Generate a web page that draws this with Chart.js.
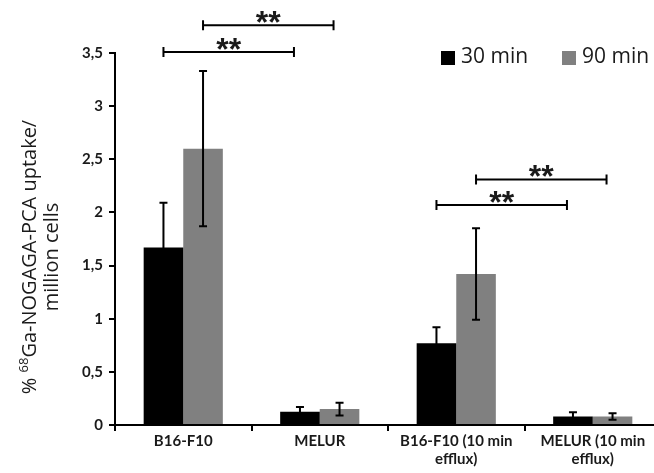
<!DOCTYPE html>
<html>
<head>
<meta charset="utf-8">
<script src="https://cdn.jsdelivr.net/npm/chart.js@4.4.1/dist/chart.umd.min.js"></script>
<style>
  html, body { margin: 0; padding: 0; background: #fff; overflow: hidden; }
</style>
</head>
<body>
<canvas id="uptake" width="670" height="473"></canvas>
<script>
// values
var categories = [['B16-F10'], ['MELUR'], ['B16-F10 (10 min', 'efflux)'], ['MELUR (10 min', 'efflux)']];
var seriesNames = ['30 min', '90 min'];
var uptake30 = [1.67, 0.125, 0.77, 0.08];
var uptake90 = [2.60, 0.15, 1.42, 0.08];
var err30 = [0.42, 0.045, 0.15, 0.04];
var err90 = [0.73, 0.06, 0.43, 0.03];
var yMax = 3.5;
var yStep = 0.5;
// significance brackets: group from -> group to, for series ds, at height y
var brackets = [
  {from: 0, to: 1, ds: 0, y: 3.51, label: '**'},
  {from: 0, to: 1, ds: 1, y: 3.76, label: '**'},
  {from: 2, to: 3, ds: 0, y: 2.07, label: '**'},
  {from: 2, to: 3, ds: 1, y: 2.31, label: '**'}
];

var colors = ['#000000', '#808080'];
var errors = [err30, err90];
var textColor = '#1a1a1a';

var extras = {
  id: 'extras',
  afterDatasetsDraw(chart) {
    var ctx = chart.ctx;
    var y = chart.scales.y;
    ctx.save();
    ctx.strokeStyle = '#000';
    ctx.lineWidth = 2;

    // error bars
    chart.data.datasets.forEach(function(ds, di) {
      var meta = chart.getDatasetMeta(di);
      meta.data.forEach(function(bar, i) {
        var v = ds.data[i], e = errors[di][i];
        var top = y.getPixelForValue(v + e);
        var bot = y.getPixelForValue(Math.max(0, v - e));
        ctx.beginPath();
        ctx.moveTo(bar.x, top); ctx.lineTo(bar.x, bot);
        ctx.moveTo(bar.x - 4, top); ctx.lineTo(bar.x + 4, top);
        ctx.moveTo(bar.x - 4, bot); ctx.lineTo(bar.x + 4, bot);
        ctx.stroke();
      });
    });

    // significance brackets
    ctx.fillStyle = textColor;
    ctx.font = 'bold 32px "Liberation Sans"';
    ctx.textAlign = 'center';
    ctx.textBaseline = 'alphabetic';
    brackets.forEach(function(b) {
      var meta = chart.getDatasetMeta(b.ds);
      var x1 = meta.data[b.from].x;
      var x2 = meta.data[b.to].x - 6;
      var py = y.getPixelForValue(b.y);
      ctx.beginPath();
      ctx.moveTo(x1, py); ctx.lineTo(x2, py);
      ctx.moveTo(x1, py - 5); ctx.lineTo(x1, py + 5);
      ctx.moveTo(x2, py - 5); ctx.lineTo(x2, py + 5);
      ctx.stroke();
      var m = ctx.measureText(b.label);
      var mid = (m.actualBoundingBoxAscent - m.actualBoundingBoxDescent) / 2;
      ctx.fillText(b.label, (x1 + x2) / 2, py - 8 + mid);
    });

    // legend
    ctx.font = '21px "Open Sans"';
    ctx.textAlign = 'left';
    ctx.textBaseline = 'middle';
    var lx = [441, 562];
    seriesNames.forEach(function(name, i) {
      ctx.fillStyle = colors[i];
      ctx.fillRect(lx[i], 51, 14, 14);
      ctx.fillStyle = textColor;
      ctx.fillText(name, lx[i] + 20, 57);
    });

    // y axis title with superscript
    var cy = 257;
    var big = '500 20px "Open Sans"', small = '500 13px "Open Sans"';
    ctx.save();
    ctx.translate(30, cy);
    ctx.rotate(-Math.PI / 2);
    ctx.fillStyle = textColor;
    ctx.textBaseline = 'middle';
    var parts = [['% ', big, 0], ['68', small, -6], ['Ga-NOGAGA-PCA uptake/', big, 0]];
    var total = 0;
    parts.forEach(function(p) { ctx.font = p[1]; total += ctx.measureText(p[0]).width; });
    var x = -total / 2;
    parts.forEach(function(p) {
      ctx.font = p[1];
      ctx.fillText(p[0], x, p[2]);
      x += ctx.measureText(p[0]).width;
    });
    ctx.restore();
    ctx.save();
    ctx.translate(52, cy);
    ctx.rotate(-Math.PI / 2);
    ctx.fillStyle = textColor;
    ctx.font = big;
    ctx.textAlign = 'center';
    ctx.textBaseline = 'middle';
    ctx.fillText('million cells', 0, 0);
    ctx.restore();

    ctx.restore();
  }
};

new Chart('uptake', {
  type: 'bar',
  data: {
    labels: categories,
    datasets: [
      {label: seriesNames[0], data: uptake30, backgroundColor: colors[0], categoryPercentage: 0.58, barPercentage: 1},
      {label: seriesNames[1], data: uptake90, backgroundColor: colors[1], categoryPercentage: 0.58, barPercentage: 1}
    ]
  },
  options: {
    responsive: false,
    animation: false,
    layout: {padding: {top: 53, right: 9, left: 0, bottom: 0}},
    plugins: {legend: {display: false}, tooltip: {enabled: false}},
    scales: {
      x: {
        afterFit(s) { s.height = 48; },
        grid: {display: true, drawOnChartArea: false, offset: true, tickLength: 6, color: '#000', lineWidth: 2},
        border: {display: true, color: '#000', width: 2},
        ticks: {color: textColor, font: {family: 'Lato', weight: 'bold', size: 15, lineHeight: 1.15}, padding: 2, maxRotation: 0, autoSkip: false}
      },
      y: {
        min: 0,
        max: yMax,
        afterFit(s) { s.width = 115; },
        grid: {display: true, drawOnChartArea: false, tickLength: 6, color: '#000', lineWidth: 2},
        border: {display: true, color: '#000', width: 2},
        ticks: {
          stepSize: yStep,
          color: textColor,
          padding: 6,
          font: {family: 'Lato', weight: 'bold', size: 15},
          callback: function(v) { return String(v).replace('.', ','); }
        }
      }
    }
  },
  plugins: [extras]
});
</script>
</body>
</html>
